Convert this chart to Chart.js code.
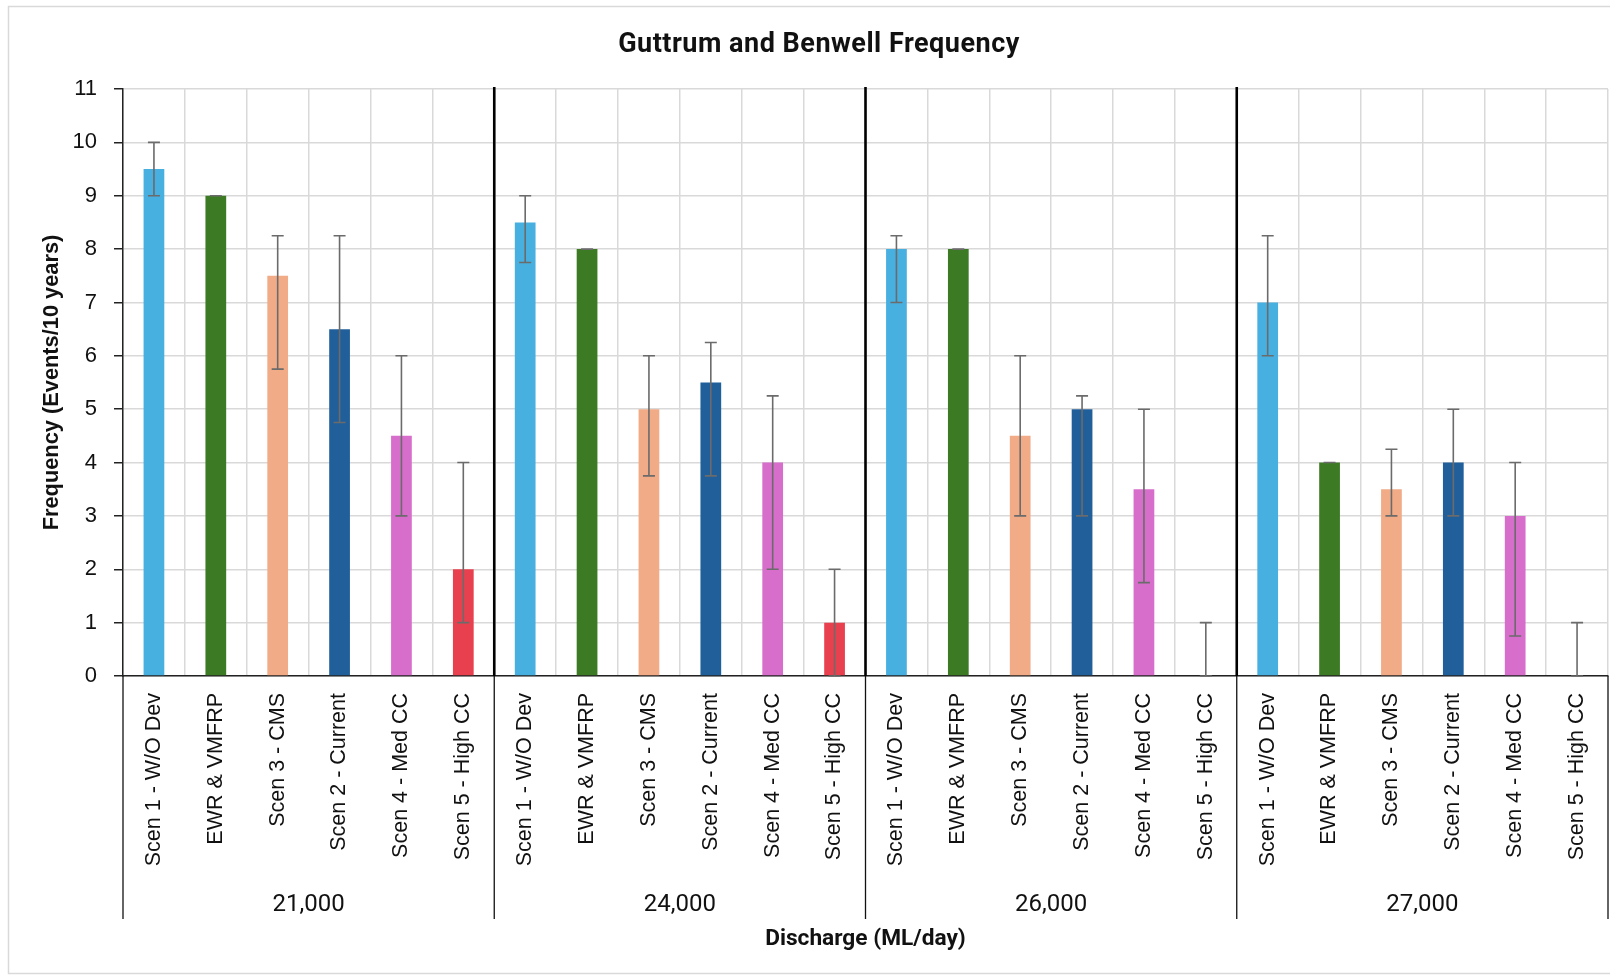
<!DOCTYPE html>
<html>
<head>
<meta charset="utf-8">
<title>Guttrum and Benwell Frequency</title>
<script src="https://cdn.jsdelivr.net/npm/chart.js@4.4.1/dist/chart.umd.min.js"></script>
<style>
  html, body { margin: 0; padding: 0; background: #fff; }
  #wrap { width: 1610px; height: 976px; }
</style>
</head>
<body>
<div id="wrap"><canvas id="freqChart" width="1610" height="976"></canvas></div>
<script>
const scenarios = ['Scen 1 - W/O Dev', 'EWR & VMFRP', 'Scen 3 - CMS', 'Scen 2 - Current', 'Scen 4 - Med CC', 'Scen 5 - High CC'];
const discharges = ['21,000', '24,000', '26,000', '27,000'];
const scenarioColors = ['#47b0e0', '#3d7a24', '#f1ab87', '#215f9a', '#d76ecb', '#e8404f'];
const yTicks = [0, 1, 2, 3, 4, 5, 6, 7, 8, 9, 10, 11];

// mean frequency and error bar bounds, per discharge
const freq21000 = [9.5, 9, 7.5, 6.5, 4.5, 2];
const upper21000 = [10, 9, 8.25, 8.25, 6, 4];
const lower21000 = [9, 9, 5.75, 4.75, 3, 1];

const freq24000 = [8.5, 8, 5, 5.5, 4, 1];
const upper24000 = [9, 8, 6, 6.25, 5.25, 2];
const lower24000 = [7.75, 8, 3.75, 3.75, 2, 0];

const freq26000 = [8, 8, 4.5, 5, 3.5, 0];
const upper26000 = [8.25, 8, 6, 5.25, 5, 1];
const lower26000 = [7, 8, 3, 3, 1.75, 0];

const freq27000 = [7, 4, 3.5, 4, 3, 0];
const upper27000 = [8.25, 4, 4.25, 5, 4, 1];
const lower27000 = [6, 4, 3, 3, 0.75, 0];

const labels = discharges.flatMap(() => scenarios);
const values = [...freq21000, ...freq24000, ...freq26000, ...freq27000];
const upper = [...upper21000, ...upper24000, ...upper26000, ...upper27000];
const lower = [...lower21000, ...lower24000, ...lower26000, ...lower27000];
const colors = discharges.flatMap(() => scenarioColors);

const TITLE_X = 819;
const TITLE_Y = 45;

// white page, light frame, title and y axis title
const backdrop = {
    id: 'backdrop',
    beforeDraw(chart) {
        const ctx = chart.ctx;
        ctx.save();
        ctx.fillStyle = '#fff';
        ctx.fillRect(0, 0, chart.width, chart.height);
        ctx.strokeStyle = '#d9d9d9';
        ctx.lineWidth = 1.5;
        ctx.strokeRect(8.5, 6.5, chart.width + 10, 967);

        ctx.fillStyle = '#111';
        ctx.font = 'bold 27px Roboto';
        ctx.letterSpacing = '0.5px';
        ctx.textAlign = 'center';
        ctx.textBaseline = 'middle';
        ctx.fillText('Guttrum and Benwell Frequency', TITLE_X, TITLE_Y);
        ctx.letterSpacing = '0px';

        ctx.translate(52, (chart.chartArea.top + chart.chartArea.bottom) / 2);
        ctx.rotate(-Math.PI / 2);
        ctx.font = 'bold 21.8px "Liberation Sans"';
        ctx.fillText('Frequency (Events/10 years)', 0, 0);
        ctx.restore();
    }
};

// error bars from the upper / lower arrays
const errorBars = {
    id: 'errorBars',
    afterDatasetsDraw(chart) {
        const ctx = chart.ctx;
        const x = chart.scales.x;
        const y = chart.scales.y;
        ctx.save();
        ctx.strokeStyle = '#6b6b6b';
        ctx.lineWidth = 1.6;
        for (let i = 0; i < values.length; i++) {
            const px = x.getPixelForValue(i);
            const top = y.getPixelForValue(upper[i]);
            const bot = y.getPixelForValue(lower[i]);
            ctx.beginPath();
            ctx.moveTo(px, top);
            ctx.lineTo(px, bot);
            ctx.moveTo(px - 6, top);
            ctx.lineTo(px + 6, top);
            ctx.moveTo(px - 6, bot);
            ctx.lineTo(px + 6, bot);
            ctx.stroke();
        }
        ctx.restore();
    }
};

// discharge grouping: separators, group labels and x axis title
const groupAxis = {
    id: 'groupAxis',
    afterDraw(chart) {
        const ctx = chart.ctx;
        const x = chart.scales.x;
        const area = chart.chartArea;
        const n = scenarios.length;
        const step = x.getPixelForValue(1) - x.getPixelForValue(0);
        ctx.save();
        for (let g = 0; g <= discharges.length; g++) {
            const bx = x.getPixelForValue(g * n) - step / 2;
            if (g > 0 && g < discharges.length) {
                ctx.strokeStyle = '#000';
                ctx.lineWidth = 2.6;
                ctx.beginPath();
                ctx.moveTo(bx, area.top - 2);
                ctx.lineTo(bx, area.bottom);
                ctx.stroke();
            }
            ctx.strokeStyle = '#111';
            ctx.lineWidth = 1.3;
            ctx.beginPath();
            ctx.moveTo(bx, area.bottom);
            ctx.lineTo(bx, 919);
            ctx.stroke();
        }
        ctx.fillStyle = '#111';
        ctx.textAlign = 'center';
        ctx.textBaseline = 'middle';
        ctx.font = '24px Roboto';
        discharges.forEach((d, g) => {
            const cx = (x.getPixelForValue(g * n) + x.getPixelForValue(g * n + n - 1)) / 2;
            ctx.fillText(d, cx, 905);
        });
        ctx.font = 'bold 22.7px Roboto';
        ctx.fillText('Discharge (ML/day)', (area.left + area.right) / 2, 939);
        ctx.restore();
    }
};

new Chart(document.getElementById('freqChart'), {
    type: 'bar',
    data: {
        labels: labels,
        datasets: [{
            label: 'Frequency',
            data: values,
            backgroundColor: colors,
            borderWidth: 0,
            categoryPercentage: 1,
            barPercentage: 0.335
        }]
    },
    options: {
        responsive: false,
        animation: false,
        layout: { padding: { top: 89, left: 0, right: 2, bottom: 0 } },
        plugins: {
            legend: { display: false },
            title: { display: false },
            tooltip: { enabled: false }
        },
        scales: {
            x: {
                grid: { color: '#d9d9d9', lineWidth: 1.5, drawTicks: false, offset: true },
                border: { color: '#222', width: 1.5 },
                ticks: {
                    autoSkip: false,
                    minRotation: 90,
                    maxRotation: 90,
                    padding: 17,
                    color: '#111',
                    font: { family: '"Liberation Sans"', size: 21.5 }
                },
                afterFit(scale) {
                    scale.height = 300;
                    scale.paddingLeft = 0;
                    scale.paddingRight = 0;
                }
            },
            y: {
                min: 0,
                max: 11,
                afterBuildTicks(scale) { scale.ticks = yTicks.map(v => ({ value: v })); },
                grid: { color: '#d9d9d9', lineWidth: 1.5, tickLength: 9, tickColor: '#222', tickWidth: 1.5 },
                border: { color: '#222', width: 1.5 },
                ticks: {
                    padding: 17,
                    color: '#111',
                    font: { family: '"Liberation Sans"', size: 22 }
                },
                afterFit(scale) { scale.width = 123; }
            }
        }
    },
    plugins: [backdrop, errorBars, groupAxis]
});
</script>
</body>
</html>
